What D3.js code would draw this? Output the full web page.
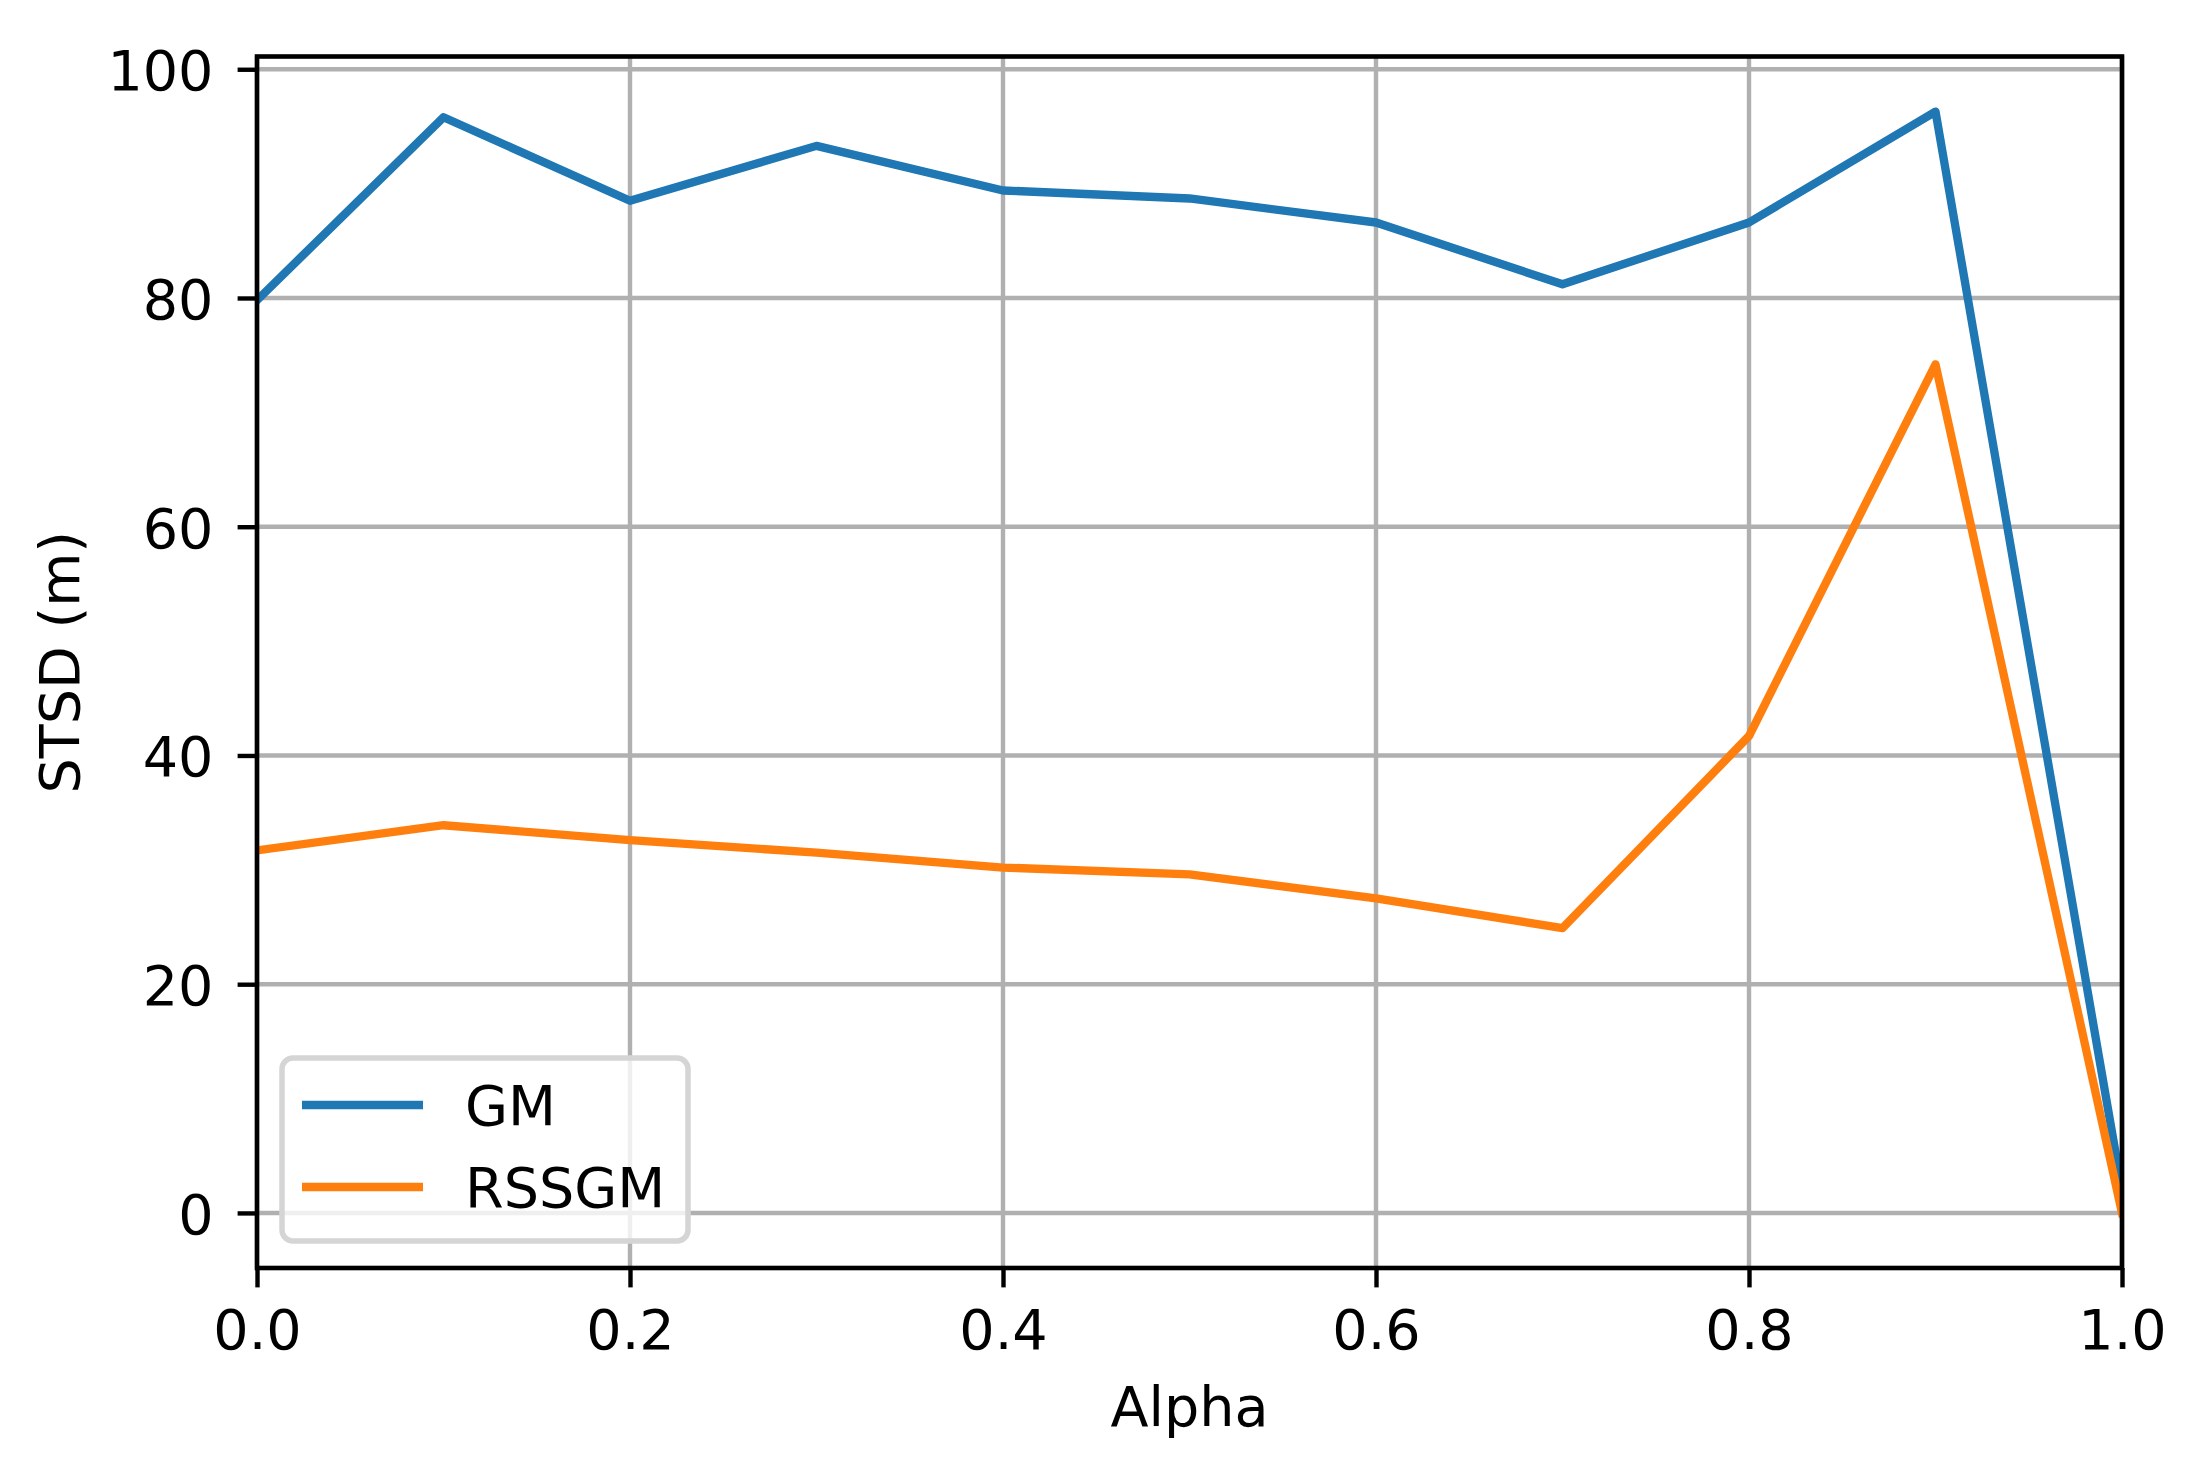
<!DOCTYPE html>
<html>
<head>
<meta charset="utf-8">
<script src="https://cdn.jsdelivr.net/npm/d3@7"></script>
<style>
  html, body { margin: 0; padding: 0; background: #ffffff; }
  svg { display: block; }
  text { font-family: "DejaVu Sans", sans-serif; fill: #000; }
</style>
</head>
<body>
<svg id="chart" width="2212" height="1459"></svg>
<script>
// ---- data ----
const alphas = [0.0, 0.1, 0.2, 0.3, 0.4, 0.5, 0.6, 0.7, 0.8, 0.9, 1.0];
const gmValues = [79.8, 95.8, 88.5, 93.3, 89.4, 88.7, 86.6, 81.2, 86.6, 96.3, 2.0];
const rssgmValues = [31.7, 33.9, 32.6, 31.5, 30.2, 29.6, 27.5, 24.9, 41.7, 74.2, 0.0];
const seriesNames = ["GM", "RSSGM"];
const seriesColors = ["#1f77b4", "#ff7f0e"];
const xTicks = [0.0, 0.2, 0.4, 0.6, 0.8, 1.0];
const yTicks = [0, 20, 40, 60, 80, 100];
const xLabel = "Alpha";
const yLabel = "STSD (m)";

// ---- layout ----
const plotL = 257, plotR = 2122, plotT = 56.5, plotB = 1268;
const fs = 55.6;
const svg = d3.select("#chart");

const x = d3.scaleLinear().domain([0, 1]).range([plotL, plotR]);
const yMax = d3.max(gmValues.concat(rssgmValues)), yMin = 0;
const yPad = (yMax - yMin) * 0.05;
const y = d3.scaleLinear().domain([yMin - yPad, yMax + yPad]).range([plotB, plotT]);

// clip
svg.append("defs").append("clipPath").attr("id", "plotclip")
  .append("rect").attr("x", plotL).attr("y", plotT).attr("width", plotR - plotL).attr("height", plotB - plotT);

// grid
const grid = svg.append("g");
grid.selectAll("line.gx").data(xTicks).enter().append("line")
  .attr("x1", d => x(d)).attr("x2", d => x(d)).attr("y1", plotT).attr("y2", plotB)
  .attr("stroke", "#b0b0b0").attr("stroke-width", 4.4);
grid.selectAll("line.gy").data(yTicks).enter().append("line")
  .attr("y1", d => y(d)).attr("y2", d => y(d)).attr("x1", plotL).attr("x2", plotR)
  .attr("stroke", "#b0b0b0").attr("stroke-width", 4.4);

// lines
const line = d3.line().x((d, i) => x(alphas[i])).y(d => y(d));
const seriesData = [gmValues, rssgmValues];
svg.append("g").attr("clip-path", "url(#plotclip)")
  .selectAll("path").data(seriesData).enter().append("path")
  .attr("d", d => line(d))
  .attr("fill", "none")
  .attr("stroke", (d, i) => seriesColors[i])
  .attr("stroke-width", 8.33)
  .attr("stroke-linejoin", "round")
  .attr("stroke-linecap", "square");

// axes (ticks + labels)
const xAxis = d3.axisBottom(x).tickValues(xTicks).tickFormat(d3.format(".1f"))
  .tickSize(19.4).tickPadding(19.4);
const gx = svg.append("g").attr("transform", `translate(0,${plotB})`).call(xAxis);
gx.select(".domain").remove();
gx.selectAll(".tick line").attr("stroke", "#000").attr("stroke-width", 4.4);
gx.selectAll(".tick text").attr("font-size", fs).attr("font-family", "DejaVu Sans")
  .attr("dy", null).attr("y", 1349 - plotB).attr("fill", "#000");

const yAxis = d3.axisLeft(y).tickValues(yTicks).tickFormat(d3.format("d"))
  .tickSize(19.4).tickPadding(19.4);
const gy = svg.append("g").attr("transform", `translate(${plotL},0)`).call(yAxis);
gy.select(".domain").remove();
gy.selectAll(".tick line").attr("stroke", "#000").attr("stroke-width", 4.4);
gy.selectAll(".tick text").attr("font-size", fs).attr("font-family", "DejaVu Sans")
  .attr("dy", null).attr("x", 213.5 - plotL).attr("y", 20.3).attr("fill", "#000");

// spines
svg.append("rect").attr("x", plotL).attr("y", plotT).attr("width", plotR - plotL).attr("height", plotB - plotT)
  .attr("fill", "none").attr("stroke", "#000").attr("stroke-width", 4.6);

// axis labels
svg.append("text").attr("x", (plotL + plotR) / 2).attr("y", 1426)
  .attr("text-anchor", "middle").attr("font-size", fs).text(xLabel);
svg.append("text").attr("transform", `translate(79,${(plotT + plotB) / 2}) rotate(-90)`)
  .attr("text-anchor", "middle").attr("font-size", fs).text(yLabel);

// legend
const lg = svg.append("g");
lg.append("rect").attr("x", 282).attr("y", 1058).attr("width", 406).attr("height", 183)
  .attr("rx", 11).attr("ry", 11)
  .attr("fill", "#ffffff").attr("fill-opacity", 0.8)
  .attr("stroke", "#d5d5d5").attr("stroke-width", 5.5);
const items = lg.selectAll("g.item").data(seriesNames).enter().append("g")
  .attr("transform", (d, i) => `translate(0,${1105 + i * 82})`);
items.append("line").attr("x1", 302).attr("x2", 423).attr("y1", 0).attr("y2", 0)
  .attr("stroke", (d, i) => seriesColors[i]).attr("stroke-width", 8.33);
items.append("text").attr("x", 465).attr("y", 20.3).attr("font-size", fs).text(d => d);
</script>
</body>
</html>
